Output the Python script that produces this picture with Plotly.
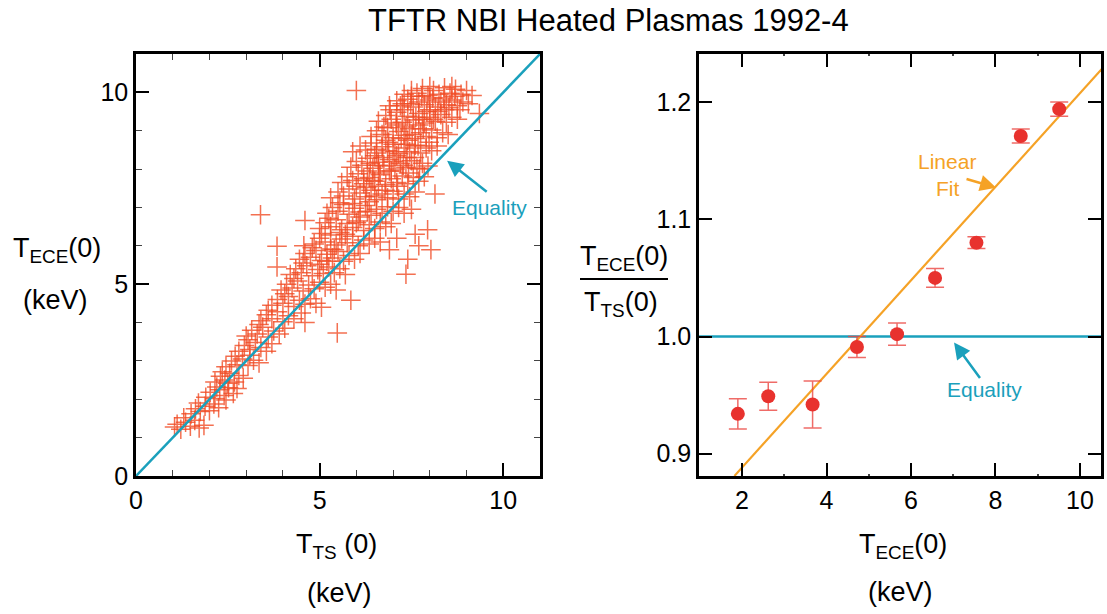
import plotly.graph_objects as go

# ---------------- Left panel data: T_ECE(0) vs T_TS(0), keV ----------------
rows_low = [
    (1.05, 1.28), (1.12, 1.35), (1.22, 1.22), (1.35, 1.40), (1.48, 1.30), (1.60, 1.45), (1.72, 1.25),
    (1.85, 1.32), (1.30, 1.52), (1.50, 1.62), (1.62, 1.75), (1.75, 1.68), (1.88, 1.82), (2.00, 1.70),
    (2.12, 1.88), (1.70, 1.90), (2.25, 1.78), (1.90, 2.05), (2.02, 2.18), (2.15, 2.02), (2.28, 2.25),
    (2.40, 2.10), (2.52, 2.30), (2.65, 2.15), (2.20, 2.32), (2.45, 1.98), (2.75, 2.28), (2.15, 2.45),
    (2.30, 2.60), (2.42, 2.50), (2.55, 2.68), (2.68, 2.45), (2.80, 2.62), (2.92, 2.55), (2.50, 2.42),
    (2.35, 2.72), (2.45, 2.85), (2.60, 3.00), (2.75, 2.90), (2.90, 3.05), (3.05, 2.88), (3.20, 3.02),
    (3.35, 2.95), (2.70, 3.12), (3.10, 3.15),
]
rows_mid = [
    (2.80, 3.25), (2.95, 3.40), (3.10, 3.30), (3.25, 3.48), (3.40, 3.35), (3.55, 3.25), (3.70, 3.45),
    (3.05, 3.55), (3.00, 3.65), (3.15, 3.80), (3.30, 3.70), (3.45, 3.88), (3.60, 3.62), (3.75, 3.78),
    (3.90, 3.70), (4.05, 3.85), (3.35, 3.95), (3.40, 4.05), (3.55, 4.20), (3.70, 4.10), (3.85, 4.28),
    (4.00, 4.02), (4.15, 4.18), (4.30, 4.10), (4.50, 4.25), (3.60, 4.32), (4.60, 4.00), (3.70, 4.45),
    (3.85, 4.60), (4.00, 4.50), (4.15, 4.68), (4.30, 4.42), (4.45, 4.58), (4.60, 4.48), (4.75, 4.62),
    (4.90, 4.50), (4.05, 4.75), (5.05, 4.40), (3.95, 4.85), (4.10, 5.00), (4.25, 4.90), (4.40, 5.08),
    (4.55, 4.82), (4.70, 4.98), (4.85, 4.88), (5.00, 5.05), (5.15, 4.92), (5.30, 5.00), (4.30, 5.15),
    (5.45, 4.85), (4.20, 5.25), (4.35, 5.40), (4.50, 5.30), (4.65, 5.48), (4.80, 5.22), (4.95, 5.38),
    (5.10, 5.28), (5.25, 5.45), (5.40, 5.30), (5.55, 5.40), (5.70, 5.25), (4.55, 5.55), (5.00, 5.52),
]
rows_upper = [
    (4.45, 5.65), (4.60, 5.80), (4.75, 5.70), (4.90, 5.88), (5.05, 5.62), (5.20, 5.78), (5.35, 5.68),
    (5.50, 5.85), (5.65, 5.60), (5.80, 5.75), (5.95, 5.65), (6.10, 5.80), (4.80, 5.95), (5.30, 5.92),
    (4.85, 6.05), (5.00, 6.20), (5.15, 6.10), (5.30, 6.28), (5.45, 6.02), (5.60, 6.18), (5.75, 6.08),
    (5.90, 6.25), (6.05, 6.00), (6.20, 6.15), (6.35, 6.05), (6.50, 6.20), (5.05, 6.32), (5.55, 6.35),
    (6.65, 6.10), (5.00, 6.45), (5.15, 6.60), (5.30, 6.50), (5.45, 6.68), (5.60, 6.42), (5.75, 6.58),
    (5.90, 6.48), (6.05, 6.65), (6.20, 6.40), (6.35, 6.55), (6.50, 6.45), (6.65, 6.62), (6.80, 6.50),
    (6.95, 6.58), (5.25, 6.72), (6.10, 6.75), (5.20, 6.85), (5.35, 7.00), (5.50, 6.90), (5.65, 7.08),
    (5.80, 6.82), (5.95, 6.98), (6.10, 6.88), (6.25, 7.05), (6.40, 6.80), (6.55, 6.95), (6.70, 6.85),
    (6.85, 7.02), (7.00, 6.90), (7.15, 7.00), (7.30, 6.85), (7.50, 6.95), (5.55, 7.12), (6.35, 7.15),
    (5.30, 7.25), (5.50, 7.40), (5.65, 7.30), (5.80, 7.48), (5.95, 7.22), (6.10, 7.38), (6.25, 7.28),
    (6.40, 7.45), (6.55, 7.20), (6.70, 7.35), (6.85, 7.25), (7.00, 7.42), (7.15, 7.22), (7.30, 7.35),
    (7.45, 7.28), (7.60, 7.40), (6.00, 7.55), (6.60, 7.55),
]
rows_top = [
    (5.60, 7.65), (5.75, 7.80), (5.90, 7.70), (6.05, 7.88), (6.20, 7.62), (6.35, 7.78), (6.50, 7.68),
    (6.65, 7.85), (6.80, 7.60), (6.95, 7.75), (7.10, 7.65), (7.25, 7.82), (7.40, 7.62), (7.55, 7.78),
    (7.70, 7.68), (7.85, 7.80), (6.30, 7.95), (6.90, 7.95), (5.85, 8.05), (6.00, 8.20), (6.15, 8.10),
    (6.30, 8.28), (6.45, 8.02), (6.60, 8.18), (6.75, 8.08), (6.90, 8.25), (7.05, 8.00), (7.20, 8.15),
    (7.35, 8.05), (7.50, 8.22), (7.65, 8.02), (7.80, 8.15), (7.95, 8.08), (6.50, 8.35), (7.10, 8.35),
    (5.90, 8.45), (6.10, 8.60), (6.25, 8.50), (6.40, 8.68), (6.55, 8.42), (6.70, 8.58), (6.85, 8.48),
    (7.00, 8.65), (7.15, 8.40), (7.30, 8.55), (7.45, 8.45), (7.60, 8.62), (7.75, 8.42), (7.90, 8.55),
    (8.05, 8.48), (8.20, 8.60), (6.80, 8.75), (7.40, 8.75), (6.40, 8.85), (6.55, 9.00), (6.70, 8.90),
    (6.85, 9.08), (7.00, 8.82), (7.15, 8.98), (7.30, 8.88), (7.45, 9.05), (7.60, 8.80), (7.75, 8.95),
    (7.90, 8.85), (8.05, 9.02), (8.20, 8.82), (8.35, 8.95), (8.50, 8.90), (7.10, 9.15), (7.70, 9.15),
    (6.60, 9.25), (6.80, 9.40), (6.95, 9.30), (7.10, 9.48), (7.25, 9.22), (7.40, 9.38), (7.55, 9.28),
    (7.70, 9.45), (7.85, 9.20), (8.00, 9.35), (8.15, 9.25), (8.30, 9.42), (8.45, 9.22), (8.60, 9.35),
    (8.75, 9.30), (7.30, 9.55), (8.00, 9.55), (6.90, 9.65), (7.10, 9.78), (7.25, 9.70), (7.40, 9.82),
    (7.55, 9.62), (7.70, 9.75), (7.85, 9.68), (8.00, 9.80), (8.15, 9.62), (8.30, 9.75), (8.45, 9.68),
    (8.60, 9.80), (8.75, 9.65), (8.90, 9.75), (9.05, 9.70), (7.50, 9.90), (7.30, 9.95), (7.50, 10.05),
    (7.65, 9.98), (7.80, 10.10), (7.95, 9.92), (8.10, 10.05), (8.25, 9.95), (8.40, 10.12), (8.55, 9.98),
    (8.70, 10.08), (8.85, 9.95), (9.00, 10.05), (9.15, 9.92), (8.00, 10.15), (8.60, 10.15),
]
core = [
    (6.28, 7.52), (6.45, 7.70), (6.62, 7.90), (6.78, 7.45), (6.95, 7.95), (7.12, 7.55), (7.28, 8.10),
    (7.42, 7.90), (7.58, 8.30), (7.72, 8.00), (6.38, 8.15), (6.55, 8.52), (6.72, 8.30), (6.88, 8.70),
    (7.05, 8.45), (7.22, 8.80), (7.38, 8.30), (7.52, 8.90), (7.68, 8.60), (7.82, 9.05), (7.98, 8.70),
    (6.75, 9.10), (6.92, 9.55), (7.08, 9.20), (7.20, 9.65), (7.35, 9.10), (7.48, 9.70), (7.62, 9.35),
    (7.78, 9.90), (7.92, 9.50), (8.08, 9.85), (8.22, 9.50), (8.38, 9.85), (8.52, 9.60), (8.68, 9.90),
    (8.82, 9.55), (6.50, 7.30), (6.30, 6.90), (6.00, 6.60), (5.70, 6.30), (5.40, 5.90), (5.20, 5.60),
    (5.90, 7.10), (6.20, 7.75), (6.60, 8.10), (7.00, 8.20), (7.35, 8.65), (7.80, 9.30), (8.10, 9.30),
    (8.40, 9.55),
]
outliers = [
    (6.00, 10.05), (3.39, 6.81), (4.60, 6.66), (3.84, 5.99), (3.84, 5.45), (4.57, 6.00), (8.14, 7.35),
    (7.94, 6.42), (8.03, 5.90), (7.35, 5.26), (7.40, 5.65), (5.85, 4.58), (5.48, 3.73), (9.35, 9.45),
    (7.60, 6.30), (7.10, 6.20), (6.90, 5.90), (7.70, 6.00),
]
left_points = rows_low + rows_mid + rows_upper + rows_top + core + outliers
t_ts = [p[0] for p in left_points]
t_ece = [p[1] for p in left_points]
equality_left = [0, 11]

# ---------------- Right panel data: ratio T_ECE(0)/T_TS(0) vs T_ECE(0) ----------------
bin_tece = [1.90, 2.62, 3.67, 4.72, 5.67, 6.57, 7.55, 8.60, 9.51]
ratio = [0.934, 0.949, 0.942, 0.991, 1.002, 1.050, 1.080, 1.171, 1.194]
ratio_err = [0.013, 0.012, 0.020, 0.009, 0.0095, 0.008, 0.005, 0.006, 0.006]
fit_slope = 0.0399
fit_cross = 4.80          # T_ECE where the fit equals 1.0
fit_x = [1.82, 10.6]
fit_y = [1.0 + fit_slope * (x - fit_cross) for x in fit_x]
equality_right_x = [0.98, 10.5]
equality_right_y = [1.0, 1.0]

TEAL = "#1aa0bc"
ORANGE = "#f5a226"
RED = "#e8322e"
FONT = "Liberation Sans, Arial, Helvetica, sans-serif"

fig = go.Figure()
fig.add_trace(go.Scatter(
    x=t_ts, y=t_ece, mode="markers", xaxis="x", yaxis="y",
    marker=dict(symbol="cross-thin", size=14,
                line=dict(width=1.5, color="rgba(240,76,38,0.8)")),
    showlegend=False, hoverinfo="skip"))
fig.add_trace(go.Scatter(
    x=equality_left, y=equality_left, mode="lines", xaxis="x", yaxis="y",
    line=dict(color=TEAL, width=2.5), showlegend=False))

fig.add_trace(go.Scatter(
    x=equality_right_x, y=equality_right_y, mode="lines", xaxis="x2", yaxis="y2",
    line=dict(color=TEAL, width=2.5), showlegend=False))
fig.add_trace(go.Scatter(
    x=fit_x, y=fit_y, mode="lines", xaxis="x2", yaxis="y2",
    line=dict(color=ORANGE, width=2.2), showlegend=False))
fig.add_trace(go.Scatter(
    x=bin_tece, y=ratio, mode="markers", xaxis="x2", yaxis="y2",
    marker=dict(symbol="circle", size=14, color=RED),
    error_y=dict(type="data", array=ratio_err, color="rgba(235,70,65,0.8)",
                 thickness=1.5, width=9),
    showlegend=False))

axis_common = dict(showgrid=False, zeroline=False, showline=True, linecolor="black",
                   linewidth=2.5, mirror="allticks", ticks="inside", ticklen=13,
                   tickwidth=2, tickcolor="black", automargin=False,
                   tickfont=dict(size=25, color="black", family=FONT))

fig.update_layout(
    width=1107, height=614,
    margin=dict(l=0, r=0, t=0, b=0, autoexpand=False),
    paper_bgcolor="white", plot_bgcolor="white",
    font=dict(family=FONT, color="black"),
    xaxis=dict(domain=[136 / 1107, 540 / 1107], range=[0, 11], tick0=0, dtick=5, anchor="y",
               minor=dict(tick0=0, dtick=1, ticks="inside", ticklen=6, tickwidth=1.2,
                          tickcolor="#444"), **axis_common),
    yaxis=dict(domain=[138 / 614, 560 / 614], range=[0, 11], tick0=0, dtick=5, anchor="x",
               minor=dict(tick0=0, dtick=1, ticks="inside", ticklen=6, tickwidth=1.2,
                          tickcolor="#444"), **axis_common),
    xaxis2=dict(domain=[699 / 1107, 1101 / 1107], range=[0.98, 10.5], tick0=0, dtick=2,
                anchor="y2",
                minor=dict(tick0=0, dtick=1, ticks="inside", ticklen=2, tickwidth=1.5,
                           tickcolor="#444"), **axis_common),
    yaxis2=dict(domain=[138 / 614, 560 / 614], range=[0.881, 1.241], tick0=0.9, dtick=0.1,
                tickformat=".1f", anchor="x2", **axis_common),
)

label_font = dict(size=27, color="black", family=FONT)
ann = [
    dict(text="TFTR NBI Heated Plasmas 1992-4", x=608 / 1107, y=1 - 20 / 614,
         font=dict(size=31, color="black", family=FONT)),
    dict(text="T<sub>ECE</sub>(0)", x=57 / 1107, y=1 - 250 / 614, font=label_font),
    dict(text="(keV)", x=55 / 1107, y=1 - 300 / 614, font=label_font),
    dict(text="T<sub>TS</sub> (0)", x=337 / 1107, y=1 - 546 / 614, font=label_font),
    dict(text="(keV)", x=339 / 1107, y=1 - 593 / 614, font=label_font),
    dict(text="T<sub>ECE</sub>(0)", x=903 / 1107, y=1 - 546 / 614, font=label_font),
    dict(text="(keV)", x=900 / 1107, y=1 - 592 / 614, font=label_font),
    dict(text="T<sub>ECE</sub>(0)", x=624 / 1107, y=1 - 258 / 614, font=label_font),
    dict(text="T<sub>TS</sub>(0)", x=621 / 1107, y=1 - 304 / 614, font=label_font),
]
annotations = []
for a in ann:
    annotations.append(dict(xref="paper", yref="paper", showarrow=False,
                            xanchor="center", yanchor="middle", **a))

txt_font = dict(size=21, family=FONT)
annotations += [
    dict(xref="x", yref="y", x=9.62, y=6.99, text="Equality", showarrow=False,
         font=dict(color=TEAL, **txt_font)),
    dict(xref="x", yref="y", axref="x", ayref="y", x=8.47, y=8.22, ax=9.59, ay=7.38,
         text="", showarrow=True, arrowhead=2, arrowsize=1.3, arrowwidth=2.5,
         arrowcolor=TEAL, standoff=0),
    dict(xref="x2", yref="y2", x=7.73, y=0.9548, text="Equality", showarrow=False,
         font=dict(color=TEAL, **txt_font)),
    dict(xref="x2", yref="y2", axref="x2", ayref="y2", x=7.02, y=0.9949, ax=7.66, ay=0.9633,
         text="", showarrow=True, arrowhead=2, arrowsize=1.3, arrowwidth=2.5,
         arrowcolor=TEAL, standoff=0),
    dict(xref="x2", yref="y2", x=6.86, y=1.1495, text="Linear", showarrow=False,
         font=dict(color=ORANGE, **txt_font)),
    dict(xref="x2", yref="y2", x=6.86, y=1.1265, text="Fit", showarrow=False,
         font=dict(color=ORANGE, **txt_font)),
    dict(xref="x2", yref="y2", axref="x2", ayref="y2", x=8.02, y=1.127, ax=7.28, ay=1.1347,
         text="", showarrow=True, arrowhead=2, arrowsize=1.3, arrowwidth=2.5,
         arrowcolor=ORANGE, standoff=0),
]
fig.update_layout(annotations=annotations)
fig.add_shape(type="line", xref="paper", yref="paper",
              x0=580 / 1107, x1=668 / 1107, y0=1 - 279 / 614, y1=1 - 279 / 614,
              line=dict(color="black", width=2))

fig.write_html("out.html")
